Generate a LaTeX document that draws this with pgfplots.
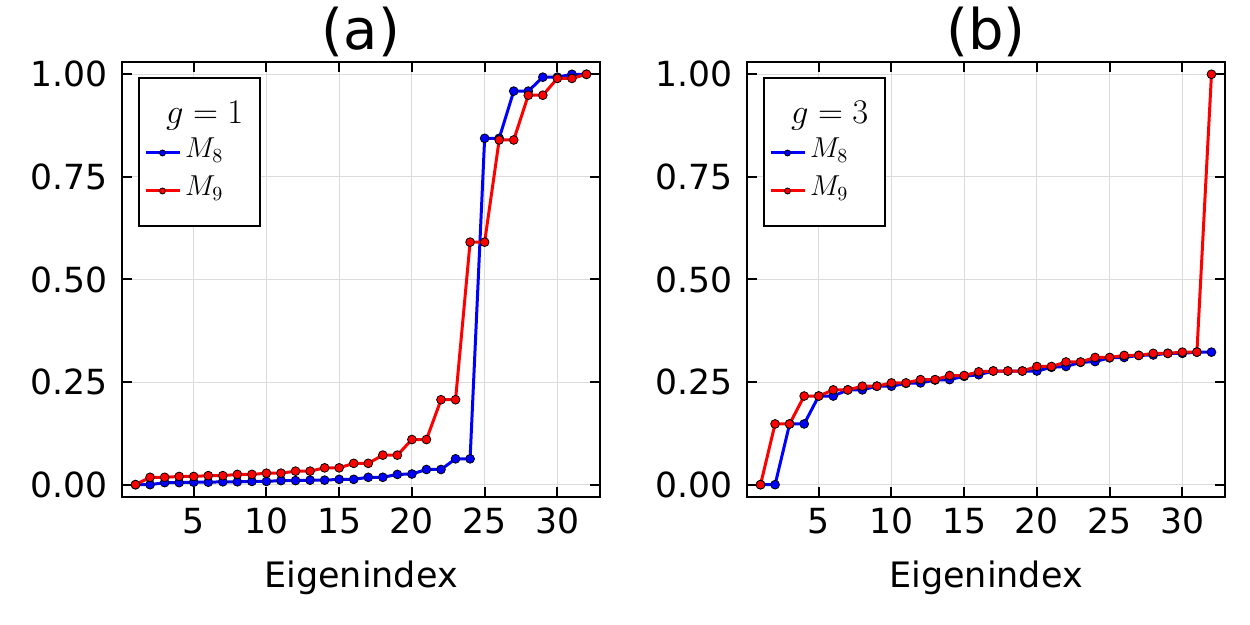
\documentclass[border=0pt]{standalone}
\usepackage[no-math]{fontspec}
\setmainfont{DejaVu Sans}
\usepackage{pgfplots}
\pgfplotsset{compat=1.18}

\newcommand{\tstrut}{\rule[-5pt]{0pt}{20pt}}
\newcommand{\mstrut}{\rule[-7pt]{0pt}{19pt}}

\pgfplotsset{
  juliastyle/.style={
    scale only axis,
    width=239pt, height=217.5pt,
    xmin=0.07, xmax=32.93,
    ymin=-0.03, ymax=1.03,
    xtick={5,10,15,20,25,30},
    ytick={0,0.25,0.5,0.75,1},
    tick align=inside,
    xtick pos=both, ytick pos=both,
    major tick length=5pt,
    every tick/.style={black, line width=1pt},
    axis line style={line width=1pt},
    grid=major,
    major grid style={black!14, line width=0.5pt},
    /pgf/number format/assume math mode=true,
    tick label style={font=\fontsize{17.3}{20}\selectfont},
    yticklabel style={/pgf/number format/fixed, /pgf/number format/fixed zerofill, /pgf/number format/precision=2, xshift=-3.5pt},
    xticklabel style={yshift=-2pt},
    xlabel={Eigenindex},
    xlabel style={font=\fontsize{17.5}{20}\selectfont, at={(axis description cs:0.5,0)}, anchor=base, yshift=-45.5pt},
    title style={font=\fontsize{28}{32}\selectfont, at={(axis description cs:0.5,1)}, anchor=base, yshift=0.2pt},
    legend style={at={(axis description cs:0.0335,0.9655)}, anchor=north west, draw=black, line width=1pt, fill=white,
      inner xsep=2.5pt, inner ysep=8pt, row sep=0pt, nodes={inner ysep=0pt, text depth=}, font=\fontsize{14}{16}\selectfont},
    legend cell align=left,
    legend image code/.code={\draw[mark repeat=2,mark phase=2,#1, mark size=1.5pt] plot coordinates {(0pt,0pt) (8.5pt,0pt) (17pt,0pt)};},
  },
  bline/.style={blue, line width=1.5pt, mark=*, mark size=2.2pt, mark options={draw=black, fill=blue, line width=0.4pt}},
  rline/.style={red, line width=1.5pt, mark=*, mark size=2.2pt, mark options={draw=black, fill=red, line width=0.4pt}},
}

\begin{document}
\begin{tikzpicture}
\useasboundingbox (0,0) rectangle (625pt,312.5pt);

\begin{axis}[juliastyle, at={(61pt,64pt)}, anchor=south west, title={(a)}]
\addlegendimage{empty legend}
\addlegendentry{\tstrut\hspace{-9.5pt}{\fontsize{17}{19}\selectfont$g=1$}}
\addplot[bline] coordinates {
(1,0) (2,0.0) (3,0.005) (4,0.005) (5,0.006) (6,0.006) (7,0.007) (8,0.007)
(9,0.008) (10,0.008) (11,0.010) (12,0.010) (13,0.011) (14,0.011) (15,0.013) (16,0.013)
(17,0.018) (18,0.018) (19,0.025) (20,0.026) (21,0.037) (22,0.037) (23,0.063) (24,0.063)
(25,0.844) (26,0.844) (27,0.959) (28,0.959) (29,0.993) (30,0.993) (31,1.0) (32,1.0)};
\addlegendentry{\mstrut\makebox[33pt][l]{$M_{8}$}}
\addplot[rline] coordinates {
(1,0) (2,0.018) (3,0.018) (4,0.020) (5,0.020) (6,0.022) (7,0.022) (8,0.025)
(9,0.025) (10,0.028) (11,0.028) (12,0.033) (13,0.033) (14,0.041) (15,0.041) (16,0.052)
(17,0.052) (18,0.072) (19,0.072) (20,0.110) (21,0.110) (22,0.207) (23,0.207) (24,0.591)
(25,0.591) (26,0.840) (27,0.840) (28,0.949) (29,0.949) (30,0.990) (31,0.990) (32,1.0)};
\addlegendentry{\mstrut\makebox[33pt][l]{$M_{9}$}}
\end{axis}

\begin{axis}[juliastyle, at={(373.5pt,64pt)}, anchor=south west, title={(b)}]
\addlegendimage{empty legend}
\addlegendentry{\tstrut\hspace{-9.5pt}{\fontsize{17}{19}\selectfont$g=3$}}
\addplot[bline] coordinates {
(1,0) (2,0) (3,0.148) (4,0.148) (5,0.216) (6,0.216) (7,0.231) (8,0.231)
(9,0.240) (10,0.240) (11,0.247) (12,0.248) (13,0.255) (14,0.256) (15,0.264) (16,0.268)
(17,0.277) (18,0.277) (19,0.277) (20,0.277) (21,0.286) (22,0.288) (23,0.298) (24,0.300)
(25,0.309) (26,0.310) (27,0.315) (28,0.316) (29,0.320) (30,0.320) (31,0.323) (32,0.323)};
\addlegendentry{\mstrut\makebox[33pt][l]{$M_{8}$}}
\addplot[rline] coordinates {
(1,0) (2,0.148) (3,0.148) (4,0.216) (5,0.216) (6,0.231) (7,0.231) (8,0.240)
(9,0.240) (10,0.248) (11,0.248) (12,0.256) (13,0.256) (14,0.266) (15,0.266) (16,0.275)
(17,0.277) (18,0.277) (19,0.277) (20,0.288) (21,0.288) (22,0.299) (23,0.299) (24,0.310)
(25,0.310) (26,0.315) (27,0.315) (28,0.320) (29,0.320) (30,0.323) (31,0.323) (32,1.0)};
\addlegendentry{\mstrut\makebox[33pt][l]{$M_{9}$}}
\end{axis}
\end{tikzpicture}
\end{document}
